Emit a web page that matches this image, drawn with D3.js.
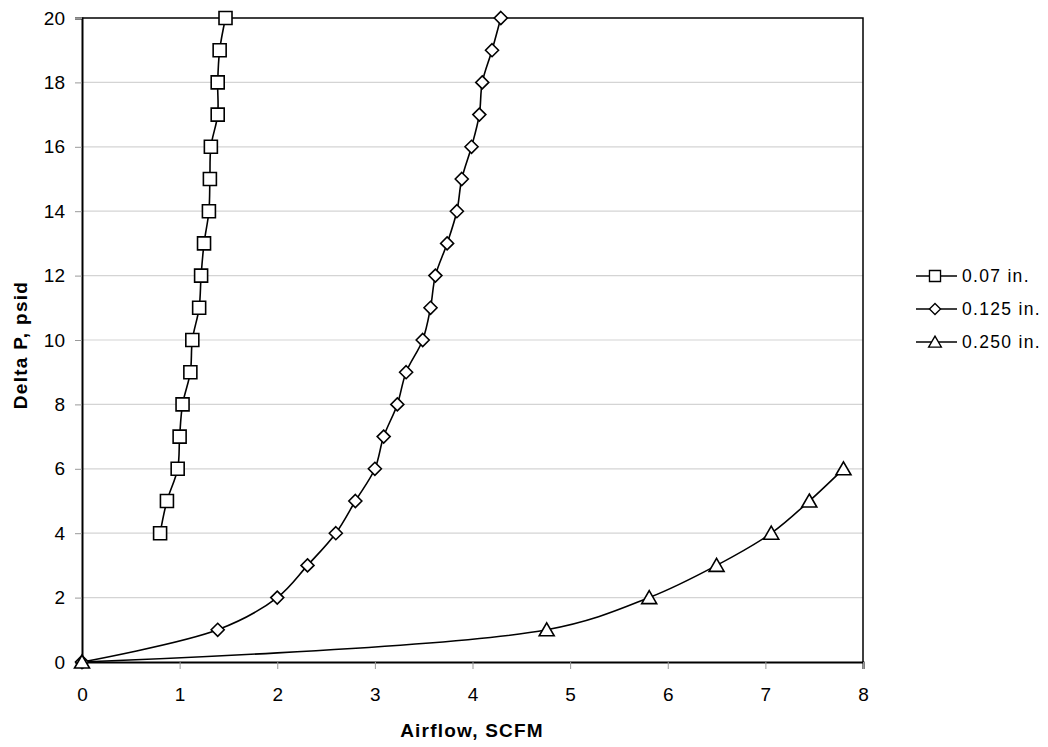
<!DOCTYPE html>
<html>
<head>
<meta charset="utf-8">
<script src="https://cdn.jsdelivr.net/npm/d3@7"></script>
<style>
  body { margin: 0; background: #fff; }
  text { font-family: "Liberation Sans", Arial, sans-serif; }
</style>
</head>
<body>
<svg id="chart" width="1048" height="747"></svg>
<script>
// series data
const dp07 = [4, 5, 6, 7, 8, 9, 10, 11, 12, 13, 14, 15, 16, 17, 18, 19, 20]
const flow07 = [0.80, 0.87, 0.98, 1.00, 1.03, 1.11, 1.13, 1.20, 1.22, 1.25, 1.30, 1.31, 1.32, 1.39, 1.39, 1.41, 1.47]

const dp125 = [0, 1, 2, 3, 4, 5, 6, 7, 8, 9, 10, 11, 12, 13, 14, 15, 16, 17, 18, 19, 20]
const flow125 = [0, 1.39, 2.00, 2.31, 2.60, 2.80, 3.00, 3.09, 3.23, 3.32, 3.49, 3.57, 3.62, 3.74, 3.84, 3.89, 3.99, 4.07, 4.10, 4.20, 4.29]

const dp250 = [0, 1, 2, 3, 4, 5, 6]
const flow250 = [0, 4.76, 5.81, 6.50, 7.06, 7.45, 7.80]

const seriesNames = ["0.07 in.", "0.125 in.", "0.250 in."]
const xTicks = [0, 1, 2, 3, 4, 5, 6, 7, 8]
const yTicks = [0, 2, 4, 6, 8, 10, 12, 14, 16, 18, 20]

const series = [
    {name: seriesNames[0], shape: "square", pts: flow07.map((x, i) => ({x: x, y: dp07[i]}))},
    {name: seriesNames[1], shape: "diamond", pts: flow125.map((x, i) => ({x: x, y: dp125[i]}))},
    {name: seriesNames[2], shape: "triangle", pts: flow250.map((x, i) => ({x: x, y: dp250[i]}))}
]

let svg = d3.select("#chart")
const plotL = 82, plotR = 863, plotT = 18, plotB = 662

let x = d3.scaleLinear().domain([0, 8]).range([plotL, plotR])
let y = d3.scaleLinear().domain([0, 20]).range([plotB, plotT])

// horizontal grid
svg.append("g")
    .selectAll("line")
    .data(yTicks.filter(d => d > 0 && d < 20))
    .enter().append("line")
    .attr("x1", plotL).attr("x2", plotR)
    .attr("y1", d => y(d)).attr("y2", d => y(d))
    .style("stroke", "#d4d4d4")
    .style("stroke-width", 1.2)

// frame (top + right)
svg.append("path")
    .attr("d", `M${plotL},${plotT}H${plotR}V${plotB}`)
    .style("fill", "none")
    .style("stroke", "#000")
    .style("stroke-width", 1.5)

let xAxis = svg.append("g")
    .attr("transform", `translate(0,${plotB})`)
    .call(d3.axisBottom(x).tickValues(xTicks).tickSize(7).tickPadding(19).tickFormat(d3.format("d")))
let yAxis = svg.append("g")
    .attr("transform", `translate(${plotL},0)`)
    .call(d3.axisLeft(y).tickValues(yTicks).tickSize(7).tickPadding(10).tickFormat(d3.format("d")))

for (let ax of [xAxis, yAxis]) {
    ax.select(".domain").style("stroke", "#000").style("stroke-width", 2)
    ax.selectAll(".tick line").style("stroke", "#999")
    ax.selectAll(".tick text")
        .style("font-size", "19px")
        .style("fill", "#000")
        .style("font-family", "'Liberation Sans', Arial, sans-serif")
}

// axis titles
svg.append("text")
    .attr("x", 472).attr("y", 737)
    .attr("text-anchor", "middle")
    .attr("font-size", 19)
    .attr("font-weight", "bold")
    .attr("letter-spacing", 1.2)
    .text("Airflow, SCFM")
svg.append("text")
    .attr("transform", "translate(27,345) rotate(-90)")
    .attr("text-anchor", "middle")
    .attr("font-size", 19)
    .attr("font-weight", "bold")
    .attr("letter-spacing", 1.3)
    .text("Delta P, psid")

const markerPath = (shape) => {
    if (shape === "square") return "M-6.5,-6.5H6.5V6.5H-6.5Z"
    if (shape === "diamond") return "M0,-6.5L6.5,0L0,6.5L-6.5,0Z"
    return "M0,-7L7.5,6H-7.5Z"
}

let line = d3.line()
    .x(d => x(d.x))
    .y(d => y(d.y))
    .curve(d3.curveCatmullRom.alpha(0.5))

let plot = svg.append("g")
series.forEach(s => {
    plot.append("path")
        .datum(s.pts)
        .attr("d", line)
        .style("fill", "none")
        .style("stroke", "#000")
        .style("stroke-width", 1.6)
})
series.forEach(s => {
    plot.selectAll(null)
        .data(s.pts)
        .enter().append("path")
        .attr("transform", d => `translate(${x(d.x)},${y(d.y)})`)
        .attr("d", markerPath(s.shape))
        .style("fill", "#fff")
        .style("stroke", "#000")
        .style("stroke-width", 1.6)
})

// legend
let legend = svg.append("g")
series.forEach((s, i) => {
    let ly = 276 + i * 33
    legend.append("line")
        .attr("x1", 916).attr("x2", 957)
        .attr("y1", ly).attr("y2", ly)
        .style("stroke", "#000")
        .style("stroke-width", 1.6)
    legend.append("path")
        .attr("transform", `translate(935,${ly}) scale(0.85)`)
        .attr("d", markerPath(s.shape))
        .style("fill", "#fff")
        .style("stroke", "#000")
        .style("stroke-width", 1.6)
    legend.append("text")
        .attr("x", 962).attr("y", ly + 6)
        .attr("font-size", 17.5)
        .attr("letter-spacing", 1.3)
        .text(s.name)
})
</script>
</body>
</html>
